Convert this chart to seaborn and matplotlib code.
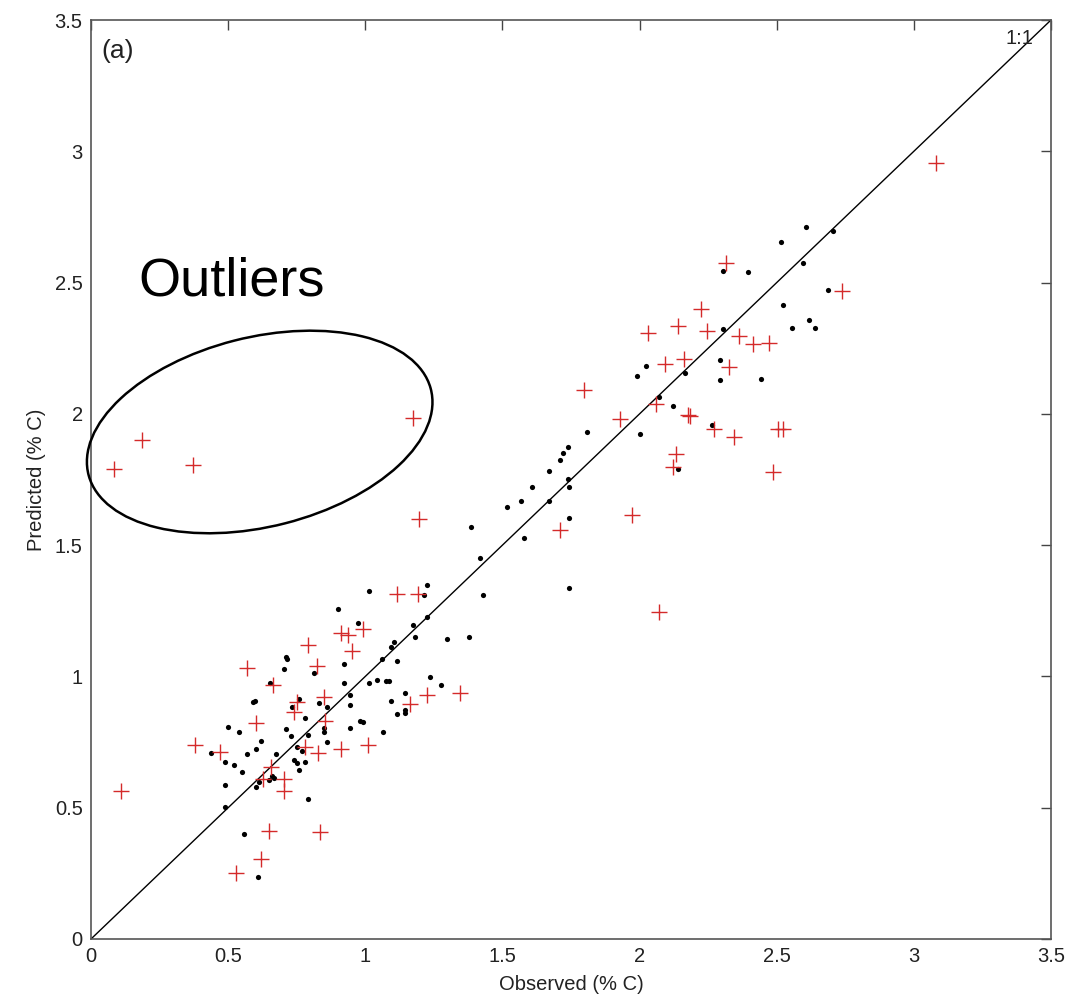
import seaborn as sns
import pandas as pd
from matplotlib import pyplot as plt
from matplotlib.patches import Ellipse

# black dots (calibration set)
obs_dot = [1.013, 1.225, 1.215, 1.428, 0.902, 0.973, 1.174, 1.224, 1.182, 1.104,
           1.094, 1.297, 1.377, 0.711, 0.716, 0.703, 0.922, 1.062, 1.114, 0.813,
           0.653, 0.922, 1.013, 1.043, 1.074, 1.086, 1.236, 1.276, 1.145, 0.759,
           0.733, 0.831, 0.860, 0.591, 0.598, 0.943, 0.943, 1.094, 1.114, 1.146,
           1.146, 0.780, 0.982, 0.992, 0.849, 0.849, 0.943, 1.063, 0.499, 0.541,
           0.710, 0.730, 0.790, 0.860, 0.621, 0.602, 0.750, 0.569, 0.437, 0.673,
           0.770, 0.489, 0.520, 0.741, 0.750, 0.780, 0.759, 0.550, 0.661, 0.668,
           0.650, 0.611, 0.602, 0.490, 0.790, 0.490, 0.559, 0.610, 1.742, 1.569,
           1.670, 1.517, 1.385, 1.742, 1.579, 1.417, 1.742, 1.608, 1.808, 1.739,
           1.720, 1.710, 1.669, 1.739, 2.607, 2.706, 2.514, 2.595, 2.304, 2.394,
           2.686, 2.524, 2.618, 2.556, 2.638, 2.304, 2.022, 2.294, 1.992, 2.164,
           2.294, 2.444, 2.072, 2.123, 2.002, 2.265, 2.141]
pred_dot = [1.325, 1.348, 1.309, 1.311, 1.256, 1.202, 1.195, 1.227, 1.150, 1.131,
            1.111, 1.142, 1.150, 1.075, 1.067, 1.027, 1.046, 1.067, 1.057, 1.012,
            0.974, 0.974, 0.976, 0.987, 0.982, 0.982, 0.999, 0.968, 0.937, 0.915,
            0.885, 0.899, 0.885, 0.903, 0.905, 0.928, 0.892, 0.906, 0.857, 0.872,
            0.862, 0.842, 0.831, 0.827, 0.805, 0.788, 0.805, 0.787, 0.808, 0.789,
            0.799, 0.772, 0.777, 0.749, 0.754, 0.725, 0.732, 0.706, 0.707, 0.703,
            0.716, 0.675, 0.664, 0.681, 0.671, 0.673, 0.644, 0.635, 0.622, 0.612,
            0.605, 0.597, 0.580, 0.588, 0.532, 0.502, 0.401, 0.235, 1.720, 1.668,
            1.668, 1.645, 1.568, 1.604, 1.527, 1.452, 1.338, 1.723, 1.931, 1.875,
            1.851, 1.824, 1.783, 1.753, 2.710, 2.695, 2.655, 2.575, 2.544, 2.541,
            2.471, 2.414, 2.357, 2.327, 2.328, 2.324, 2.183, 2.207, 2.144, 2.155,
            2.130, 2.132, 2.064, 2.029, 1.923, 1.957, 1.789]

# red crosses (validation set)
obs_cross = [1.116, 1.192, 0.911, 0.936, 0.993, 0.792, 0.953, 0.568, 0.823, 0.662,
             0.752, 0.740, 0.851, 0.854, 0.600, 1.225, 1.163, 1.345, 0.379, 0.469,
             0.781, 0.826, 0.913, 1.011, 0.656, 0.626, 0.704, 0.705, 0.649, 0.834,
             0.620, 0.529, 0.109, 1.195, 1.709, 1.971, 2.071, 2.314, 2.737, 2.223,
             2.140, 2.031, 2.245, 2.362, 2.412, 2.473, 2.163, 2.093, 2.326, 1.797,
             2.060, 2.176, 2.184, 1.927, 2.272, 2.343, 2.506, 2.524, 2.134, 2.123,
             2.487, 3.081, 0.084, 0.186, 0.371, 1.175]
pred_cross = [1.313, 1.315, 1.164, 1.157, 1.182, 1.118, 1.098, 1.031, 1.041, 0.967,
              0.903, 0.866, 0.923, 0.830, 0.821, 0.928, 0.895, 0.938, 0.739, 0.712,
              0.732, 0.709, 0.722, 0.739, 0.656, 0.608, 0.608, 0.562, 0.411, 0.406,
              0.304, 0.250, 0.564, 1.601, 1.557, 1.616, 1.246, 2.573, 2.469, 2.399,
              2.334, 2.309, 2.315, 2.296, 2.266, 2.268, 2.209, 2.190, 2.179, 2.091,
              2.038, 1.995, 1.992, 1.979, 1.941, 1.912, 1.943, 1.941, 1.849, 1.799,
              1.777, 2.954, 1.789, 1.900, 1.807, 1.983]

ticks = [0, 0.5, 1, 1.5, 2, 2.5, 3, 3.5]
tick_labels = ["0", "0.5", "1", "1.5", "2", "2.5", "3", "3.5"]

sns.set_style("white")
plt.rcParams['font.family'] = ['Liberation Sans', 'DejaVu Sans']

fig = plt.figure(figsize=(10.72, 9.99), dpi=100)
ax = fig.add_axes([91 / 1072, 60 / 999, 960 / 1072, 919 / 999])

dots = pd.DataFrame({'obs': obs_dot, 'pred': pred_dot})
crosses = pd.DataFrame({'obs': obs_cross, 'pred': pred_cross})

ax.axline((0, 0), slope=1, color='black', lw=1)
sns.scatterplot(x='obs', y='pred', data=dots, ax=ax, color='black', s=14,
                linewidth=0, zorder=3)
sns.scatterplot(x='obs', y='pred', data=crosses, ax=ax, marker='+',
                color='#d42a2a', s=130, linewidth=1, zorder=4)

ax.add_patch(Ellipse((0.615, 1.931), 1.29, 0.72, angle=15, fill=False,
                     edgecolor='black', lw=1.8, zorder=5, clip_on=False))
ax.text(0.171, 2.452, "Outliers", fontsize=39, ha='left',
        va='baseline', color='black')
ax.text(0.0105, 0.979, "(a)", transform=ax.transAxes, fontsize=19,
        ha='left', va='top', color='#222222')
ax.text(0.982, 0.99, "1:1", transform=ax.transAxes, fontsize=14.5,
        ha='right', va='top', color='#222222')

ax.set_xlim(0, 3.5)
ax.set_ylim(0, 3.5)
ax.set_xticks(ticks)
ax.set_xticklabels(tick_labels)
ax.set_yticks(ticks)
ax.set_yticklabels(tick_labels)
ax.tick_params(direction='in', length=7, width=1, top=True, right=True,
               labelsize=14.5, colors='#444444', labelcolor='#222222', pad=6)
for s in ax.spines.values():
    s.set_visible(True)
    s.set_color('#555555')
    s.set_linewidth(1.2)

ax.set_xlabel("Observed (% C)", fontsize=14.5, color='#222222', labelpad=6)
ax.set_ylabel("Predicted (% C)", fontsize=14.5, color='#222222', labelpad=6)

plt.savefig("out.png", dpi=100)
